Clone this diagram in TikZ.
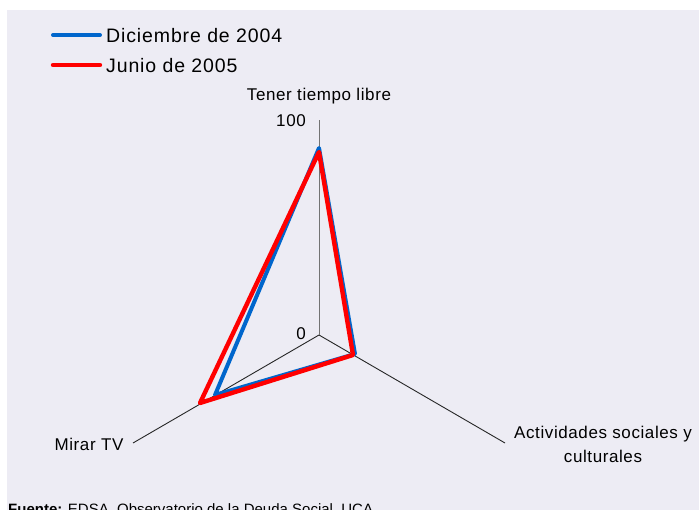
\documentclass[tikz,border=0pt]{standalone}
\usepackage{fontspec}
\setmainfont{Liberation Sans}
\newfontfamily\legfont[LetterSpace=4.5]{Liberation Sans}
\newfontfamily\axfont[LetterSpace=3.5]{Liberation Sans}
\begin{document}
\begin{tikzpicture}[x=1pt,y=-1pt,
  axisline/.style={line width=0.9pt,black!85},
  valaxis/.style={line width=1pt,black!55},
  series2004/.style={line width=4pt,color={rgb,255:red,0;green,102;blue,204},line join=round,line cap=round},
  series2005/.style={line width=4.4pt,color={rgb,255:red,255;green,0;blue,0},line join=round,line cap=round},
  axlabel/.style={font=\axfont\fontsize{17}{21}\selectfont,inner sep=0pt},
  leglabel/.style={font=\legfont\fontsize{19.5}{23}\selectfont,inner sep=0pt,anchor=west}]
\definecolor{panel}{RGB}{237,236,244}
\useasboundingbox (0,0) rectangle (699,510);
\fill[white] (0,0) rectangle (699,510);
\fill[panel] (7,10) rectangle (699,512);
% axes
\coordinate (O) at (319,335);
\coordinate (T) at (319,120);
\coordinate (R) at (505,443);
\coordinate (L) at (133,443);
\draw[axisline] (O) -- (R);
\draw[axisline] (O) -- (L);
\draw[valaxis] (O) -- (T);
% data
\coordinate (b1) at (319,148);
\coordinate (b2) at (355,354);
\coordinate (b3) at (215,395);
\coordinate (r1) at (319,152);
\coordinate (r2) at (353,355);
\coordinate (r3) at (200,403);
\draw[series2004] (b1) -- (b2) -- (b3) -- cycle;
\draw[series2005] (r1) -- (r2) -- (r3) -- cycle;
% labels
\node[axlabel] (ttl) at (319,96) {Tener tiempo libre};
\node[axlabel,anchor=east] (v100) at (306,121) {100};
\node[axlabel,anchor=east] (v0) at (306,334) {0};
\node[axlabel] (tv) at (89,444) {Mirar TV};
\node[axlabel,align=center] (act) at (603,444) {Actividades sociales y\\[3pt]culturales};
% legend
\coordinate (lb1) at (53,35); \coordinate (lb2) at (100,35);
\coordinate (lr1) at (53,65); \coordinate (lr2) at (100,65);
\draw[series2004] (lb1) -- (lb2);
\draw[series2005] (lr1) -- (lr2);
\node[leglabel] (l1) at (106,36) {Diciembre de 2004};
\node[leglabel] (l2) at (106,66) {Junio de 2005};
% source
\node[anchor=base west,inner sep=0pt,font=\fontsize{15}{18}\selectfont] (src) at (8,514) {\textbf{Fuente:} EDSA, Observatorio de la Deuda Social, UCA};
\end{tikzpicture}
\end{document}
